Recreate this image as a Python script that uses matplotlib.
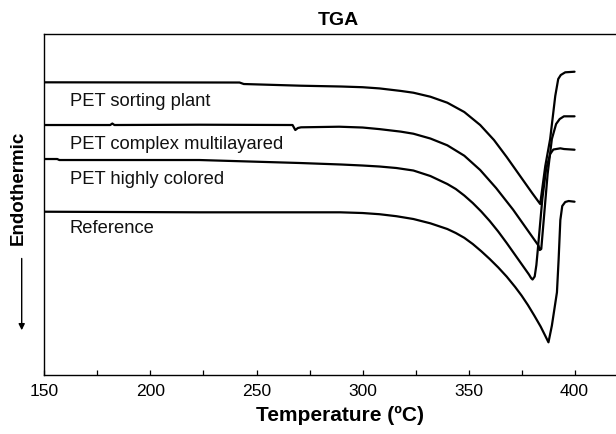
import matplotlib
matplotlib.use("Agg")
import matplotlib.pyplot as plt
from matplotlib.ticker import MultipleLocator

plt.rcParams['font.family'] = ['Liberation Sans', 'DejaVu Sans']

# ---- data (temperature in °C, heat flow in arbitrary units) ----
sorting_T = [150, 242, 244, 271, 290, 300, 308, 318, 324, 332, 340, 348, 355.5, 362,
             368, 372, 376, 380, 383.8, 386.2, 388.5, 390.9, 392.3, 393.5, 395.6, 400]
sorting_Y = [29.27, 29.25, 29.1, 28.93, 28.85, 28.78, 28.66, 28.41, 28.23, 27.83, 27.23,
             26.3, 25.0, 23.5, 21.8, 20.6, 19.4, 18.2, 17.1, 20.9, 23.6, 27.9, 29.6, 30.0,
             30.27, 30.33]

complex_T = [150, 181, 182, 183, 223, 267, 268.3, 269.5, 271, 289, 300, 308, 318, 324,
             332, 340, 348, 355.5, 363, 371, 377, 383, 383.6, 384.3, 385.5, 387.3, 389.3,
             391.3, 393, 395, 400]
complex_Y = [25.0, 25.0, 25.15, 25.0, 25.03, 25.0, 24.5, 24.7, 24.77, 24.83, 24.75, 24.59,
             24.34, 24.13, 23.65, 22.97, 21.93, 20.5, 18.7, 16.54, 14.74, 12.94, 12.5,
             12.6, 15.6, 20.1, 23.6, 25.1, 25.6, 25.87, 25.87]

colored_T = [150, 156, 157, 223, 270.6, 290, 300, 308, 316, 324, 332, 340, 344, 348, 352,
             356, 360, 364, 368, 372, 376, 378.5, 379.5, 380.2, 381.2, 382, 382.7, 383.5,
             384.8, 386.6, 388.5, 390, 393.3, 395, 400]
colored_Y = [21.6, 21.6, 21.5, 21.5, 21.2, 21.05, 20.95, 20.85, 20.7, 20.45, 19.9, 19.1,
             18.6, 17.95, 17.2, 16.35, 15.4, 14.35, 13.2, 12.0, 10.8, 10.05, 9.7, 9.55,
             9.85, 11.0, 12.6, 14.5, 17.6, 20.6, 22.1, 22.55, 22.67, 22.6, 22.53]

reference_T = [150, 223, 289.5, 300, 308, 316, 324, 332, 340, 344, 348, 352, 356, 360,
               364, 368, 372, 375, 378, 381, 384, 386, 387.7, 389.3, 391.7, 392.5, 393.3,
               394.2, 395.6, 397.2, 400]
reference_Y = [16.33, 16.27, 16.27, 16.2, 16.08, 15.88, 15.6, 15.17, 14.6, 14.2, 13.72,
               13.1, 12.38, 11.6, 10.76, 9.84, 8.8, 7.95, 7.0, 5.95, 4.85, 4.0, 3.27, 4.93,
               8.27, 11.6, 15.5, 16.9, 17.3, 17.4, 17.33]

labels = ["PET sorting plant", "PET complex multilayared", "PET highly colored", "Reference"]
label_Y = [27.5, 23.2, 19.7, 14.8]
label_T = 162

x_ticks = [150, 200, 250, 300, 350, 400]

fig = plt.figure(figsize=(6.16, 4.35), dpi=100)
ax = fig.add_axes([0.0722, 0.1356, 0.9586, 0.7839])

lw = 1.6
for T, Y in [(sorting_T, sorting_Y), (complex_T, complex_Y),
             (colored_T, colored_Y), (reference_T, reference_Y)]:
    ax.plot(T, Y, color='black', lw=lw, solid_joinstyle='round', solid_capstyle='round')

for lab, y in zip(labels, label_Y):
    ax.text(label_T, y, lab, fontsize=13.2, va='center', ha='left', color='#111111')

ax.set_xlim(150, 428.5)
ax.set_ylim(0, 34.1)
ax.set_xticks(x_ticks)
ax.xaxis.set_minor_locator(MultipleLocator(25))
ax.set_yticks([])
ax.tick_params(axis='x', which='both', direction='in', length=3.5, width=0.9,
               labelsize=12.6, pad=6)
for s in ax.spines.values():
    s.set_linewidth(1.0)
ax.spines['right'].set_visible(False)

ax.set_xlabel("Temperature (ºC)", fontsize=15, fontweight='bold', labelpad=5)

fig.text(338 / 616, 1 - 20.7 / 435, "TGA", fontsize=14, fontweight='bold',
         ha='center', va='center')
fig.text(18.3 / 616, 1 - 188 / 435, "Endothermic", fontsize=13.5, fontweight='bold',
         rotation=90, ha='center', va='center')
fig.patches.append(matplotlib.patches.FancyArrowPatch(
    (21.7 / 616, 1 - 256.7 / 435), (21.7 / 616, 1 - 334 / 435),
    transform=fig.transFigure, arrowstyle='-|>', mutation_scale=9, lw=1.0,
    color='black'))

fig.savefig("out.png", dpi=100)
